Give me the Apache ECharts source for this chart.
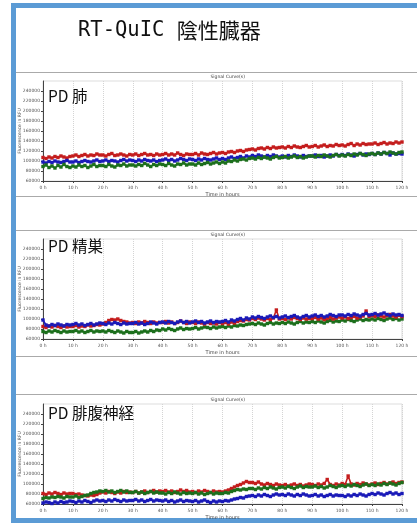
<!DOCTYPE html>
<html>
<head>
<meta charset="utf-8">
<style>
  html, body { margin: 0; padding: 0; background: #fff; }
  #chart { width: 417px; height: 523px; }
</style>
<script src="https://cdn.jsdelivr.net/npm/echarts@6/dist/echarts.min.js"></script>
</head>
<body>
<div id="chart"></div>
<script>
// 螢光值單位：千 RFU，每小時一筆（0 h ~ 120 h，共 121 筆）

// PD 肺
const lungRed = [
  107,105,108,106,109,107,110,108,106,109,
  110,112,109,111,113,110,112,111,114,112,
  112,110,113,115,111,112,114,112,110,113,
  112,114,111,113,115,112,113,111,114,112,
  113,115,112,114,112,116,113,111,114,113,
  113,115,112,116,114,113,115,117,114,116,
  117,115,118,119,117,120,121,119,122,123,
  124,122,125,126,124,127,125,128,126,127,
  128,126,129,127,130,128,127,129,131,128,
  129,131,128,130,132,129,131,130,133,131,
  132,130,133,135,131,134,132,135,133,134,
  134,136,133,135,137,134,136,135,138,136,
  138
]
const lungBlue = [
  98,96,99,97,100,98,97,99,101,98,
  98,100,97,99,101,99,98,100,102,99,
  100,102,99,101,100,98,101,103,100,102,
  101,99,102,100,103,101,100,102,99,101,
  102,104,101,103,100,102,105,103,101,104,
  103,101,104,102,105,103,102,104,106,103,
  105,103,106,108,105,107,109,106,110,108,
  111,109,112,110,108,111,109,112,110,108,
  110,108,111,109,112,110,108,111,109,110,
  110,112,109,111,108,110,112,110,113,111,
  113,111,114,112,110,113,115,112,114,113,
  115,113,116,114,117,115,112,116,114,115,
  114
]
const lungGreen = [
  89,92,87,90,86,91,88,93,89,87,
  90,88,92,89,91,87,90,93,89,91,
  91,89,93,90,88,92,91,94,90,92,
  92,90,93,91,95,92,89,93,91,94,
  93,91,95,92,90,94,93,96,92,94,
  94,92,96,93,95,97,94,96,98,95,
  98,96,100,99,102,100,103,104,102,105,
  106,104,107,105,108,106,104,107,109,106,
  107,109,106,108,110,107,109,106,108,110,
  110,108,111,109,112,110,108,111,113,110,
  112,110,113,111,114,112,115,113,111,114,
  115,113,116,114,117,115,118,116,114,117,
  118
]

// PD 精巣
const testisRed = [
  85,83,86,84,87,85,83,86,84,85,
  85,87,84,86,85,88,86,87,89,88,
  90,93,97,99,98,100,97,95,94,92,
  93,91,94,92,95,93,91,94,92,93,
  93,95,92,94,91,93,96,93,91,94,
  93,91,94,92,90,93,91,92,90,93,
  91,93,90,94,92,95,97,96,99,98,
  101,99,102,100,98,101,99,102,118,100,
  101,99,102,100,103,101,99,102,100,101,
  101,103,100,102,99,101,103,100,102,104,
  102,104,101,103,105,102,104,106,116,105,
  107,105,108,106,104,107,109,106,104,107,
  105
]
const testisBlue = [
  98,88,86,89,87,90,88,86,89,88,
  89,91,88,90,87,89,91,88,90,92,
  91,89,92,90,93,91,89,92,90,91,
  91,93,90,92,89,91,94,92,90,93,
  94,92,95,93,91,94,96,93,95,92,
  94,96,93,95,92,94,96,93,95,94,
  95,97,94,98,96,99,101,98,102,100,
  104,102,105,103,101,104,106,103,105,102,
  104,106,103,105,107,104,102,105,107,104,
  106,108,105,107,104,106,109,107,105,108,
  108,106,109,107,110,108,106,109,111,108,
  109,111,108,110,112,109,107,110,108,109,
  107
]
const testisGreen = [
  75,73,76,74,77,75,73,76,74,75,
  75,77,74,76,73,75,77,74,76,75,
  76,74,77,75,73,76,74,72,75,73,
  73,75,72,74,76,74,77,75,78,77,
  80,78,81,79,77,80,82,79,81,80,
  81,83,80,82,84,83,81,84,82,84,
  85,83,86,84,87,86,88,87,89,90,
  91,89,92,90,88,91,93,90,92,91,
  93,91,94,92,90,93,95,92,94,93,
  95,93,96,94,92,95,97,94,96,95,
  98,96,99,97,95,98,100,97,99,98,
  100,98,101,99,97,100,102,99,101,98,
  100
]

// PD 腓腹神経
const nerveRed = [
  81,79,82,80,83,81,79,82,80,81,
  81,79,80,78,77,76,78,77,79,82,
  84,82,85,83,81,84,82,85,83,84,
  83,85,82,84,86,83,85,87,84,86,
  85,87,84,86,83,85,88,85,87,84,
  85,83,86,84,87,85,83,86,84,85,
  84,86,88,91,94,97,99,102,105,103,
  103,101,104,100,98,101,99,97,100,98,
  97,99,96,98,100,97,99,96,98,100,
  99,97,100,98,101,109,99,97,100,98,
  101,99,116,100,98,101,99,102,100,98,
  100,102,99,101,103,100,102,104,101,103,
  104
]
const nerveBlue = [
  62,64,63,61,64,62,65,63,64,66,
  65,63,66,64,67,65,63,66,68,66,
  67,65,68,66,69,67,65,68,66,67,
  67,69,66,68,65,67,69,66,68,67,
  66,68,65,67,64,66,68,65,67,66,
  65,67,64,66,68,65,63,66,64,66,
  65,67,66,68,70,71,73,72,75,76,
  77,75,78,76,79,77,75,78,80,78,
  79,77,80,78,76,79,77,80,78,76,
  77,79,76,78,75,77,79,76,78,77,
  77,75,78,76,79,77,80,78,76,79,
  81,79,82,80,78,81,83,80,82,79,
  81
]
const nerveGreen = [
  71,73,72,74,73,75,74,72,75,74,
  74,76,73,75,77,78,81,83,84,86,
  85,87,84,86,83,85,87,84,86,83,
  83,85,82,84,81,83,85,82,84,82,
  82,80,83,81,84,82,80,83,81,82,
  81,83,80,82,79,81,83,80,82,81,
  81,83,82,85,87,89,88,90,89,91,
  91,89,92,90,93,91,94,92,90,93,
  94,92,95,93,91,94,96,93,95,94,
  94,96,93,95,92,94,97,95,93,96,
  97,95,98,96,99,97,95,98,100,97,
  99,97,100,98,101,99,102,100,98,101,
  103
]

const panelNames = ['PD 肺', 'PD 精巣', 'PD 腓腹神経']
const COLORS = { red: '#c41d1d', blue: '#1a1ab8', green: '#1c6f1c' }

// 各面板的繪製順序（後畫的在上層）
const panels = [
  { name: panelNames[0], top: 81, series: [['red', lungRed], ['blue', lungBlue], ['green', lungGreen]] },
  { name: panelNames[1], top: 239, series: [['green', testisGreen], ['red', testisRed], ['blue', testisBlue]] },
  { name: panelNames[2], top: 404, series: [['blue', nerveBlue], ['red', nerveRed], ['green', nerveGreen]] },
]
const labelTops = [88, 238, 405]
const sepLines = [72.5, 196.5, 230.5, 356.5, 394.5]

const SMALL = 'DejaVu Sans'
const gridLeft = 43
const gridWidth = 359
const gridHeight = 100

const grid = []
const xAxis = []
const yAxis = []
const series = []
const graphic = []

// 外框（藍色邊條）
graphic.push(
  { type: 'rect', shape: { x: 11, y: 3, width: 5, height: 520 }, style: { fill: '#5b9bd5' } },
  { type: 'rect', shape: { x: 11, y: 3, width: 406, height: 5 }, style: { fill: '#5b9bd5' } },
  { type: 'rect', shape: { x: 11, y: 518, width: 406, height: 5 }, style: { fill: '#5b9bd5' } }
)
sepLines.forEach(y => {
  graphic.push({
    type: 'line',
    shape: { x1: 16, y1: y, x2: 417, y2: y },
    style: { stroke: '#aaaaaa', lineWidth: 1 },
  })
})

graphic.push({
  type: 'text',
  left: 78,
  top: 20,
  style: {
    text: '{a|RT-QuIC }{b|陰性臓器}',
    rich: {
      a: { fontFamily: 'DejaVu Sans Mono', fontSize: 20.5, fill: '#111' },
      b: { fontFamily: 'Noto Sans CJK JP', fontSize: 21, fill: '#111' },
    },
  },
})

panels.forEach((p, k) => {
  grid.push({
    left: gridLeft,
    top: p.top,
    width: gridWidth,
    height: gridHeight,
    show: true,
    borderColor: '#dddddd',
    borderWidth: 1,
  })
  xAxis.push({
    gridIndex: k,
    type: 'value',
    min: 0,
    max: 120,
    interval: 10,
    name: 'Time in hours',
    nameLocation: 'middle',
    nameGap: 11,
    nameMoveOverlap: false,
    nameTextStyle: { fontFamily: SMALL, fontSize: 5, color: '#444' },
    axisLine: { lineStyle: { color: '#444', width: 1 } },
    axisTick: { length: 2, lineStyle: { color: '#444' } },
    axisLabel: { fontFamily: SMALL, fontSize: 4.5, color: '#555', margin: 4, formatter: '{value} h' },
    splitLine: { show: true, lineStyle: { color: '#d4d4d4', type: 'dotted', width: 1 } },
  })
  yAxis.push({
    gridIndex: k,
    type: 'value',
    min: 60,
    max: 260,
    interval: 20,
    name: 'Fluorescence in RFU',
    nameLocation: 'middle',
    nameGap: 21,
    nameMoveOverlap: false,
    nameTextStyle: { fontFamily: SMALL, fontSize: 4.5, color: '#555' },
    axisLine: { show: true, lineStyle: { color: '#444', width: 1 } },
    axisTick: { show: true, length: 2, lineStyle: { color: '#444' } },
    axisLabel: {
      fontFamily: SMALL,
      fontSize: 4.5,
      color: '#555',
      margin: 3,
      showMaxLabel: false,
      formatter: v => String(v * 1000),
    },
    splitLine: { show: false },
  })
  p.series.forEach(([color, values]) => {
    series.push({
      type: 'line',
      xAxisIndex: k,
      yAxisIndex: k,
      data: values.map((v, i) => [i, v]),
      symbol: 'rect',
      symbolSize: 3.4,
      showSymbol: true,
      showAllSymbol: true,
      lineStyle: { color: COLORS[color], width: 1.6 },
      itemStyle: { color: COLORS[color] },
      silent: true,
    })
  })

  graphic.push({
    type: 'text',
    left: gridLeft + gridWidth / 2 - 12,
    top: p.top - 7,
    style: { text: 'Signal Curve(s)', fontFamily: SMALL, fontSize: 4.5, fill: '#444' },
  })
  graphic.push({
    type: 'text',
    left: 48,
    top: labelTops[k],
    z: 100,
    style: { text: p.name, fontFamily: 'Noto Sans CJK JP', fontSize: 15.5, fill: '#111' },
  })
})

const chart = echarts.init(document.getElementById('chart'))
chart.setOption({
  animation: false,
  backgroundColor: '#ffffff',
  grid,
  xAxis,
  yAxis,
  series,
  graphic,
})
</script>
</body>
</html>
